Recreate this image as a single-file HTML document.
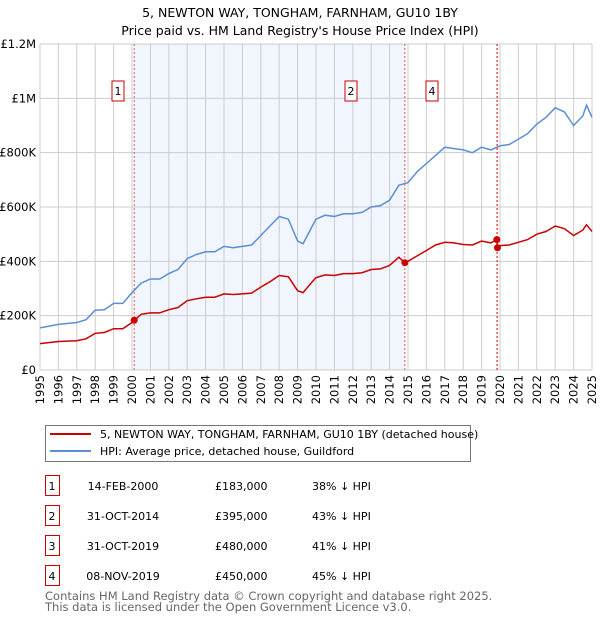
<!DOCTYPE html>
<html><head><meta charset="utf-8"><style>
body{margin:0;background:#fff;font-family:"Liberation Sans","DejaVu Sans",sans-serif;}
svg text{font-family:"DejaVu Sans","Liberation Sans",sans-serif;}
</style></head><body>
<svg id="chart" width="600" height="620" xmlns="http://www.w3.org/2000/svg">
<text x="300" y="17" text-anchor="middle" font-size="12.5">5, NEWTON WAY, TONGHAM, FARNHAM, GU10 1BY</text>
<text x="300" y="35" text-anchor="middle" font-size="12.5">Price paid vs. HM Land Registry's House Price Index (HPI)</text>
<g id="plot"></g>
<g>
<rect x="45.5" y="425.5" width="425" height="36" fill="#fff" stroke="#777"/>
<line x1="50" y1="434" x2="91" y2="434" stroke="#cc0000" stroke-width="2"/>
<text x="100" y="438" font-size="11">5, NEWTON WAY, TONGHAM, FARNHAM, GU10 1BY (detached house)</text>
<line x1="50" y1="451" x2="91" y2="451" stroke="#5b8fd4" stroke-width="2"/>
<text x="100" y="455" font-size="11">HPI: Average price, detached house, Guildford</text>
</g>
<g id="table"></g>
<text x="45" y="600" font-size="11.5" fill="#666">Contains HM Land Registry data © Crown copyright and database right 2025.</text>
<text x="45" y="611" font-size="11.5" fill="#666">This data is licensed under the Open Government Licence v3.0.</text>
</svg>
<script>
const yTicks=[0,200000,400000,600000,800000,1000000,1200000];
const yTickLabels=["£0","£200K","£400K","£600K","£800K","£1M","£1.2M"];
const xYears=[1995,1996,1997,1998,1999,2000,2001,2002,2003,2004,2005,2006,2007,2008,2009,2010,2011,2012,2013,2014,2015,2016,2017,2018,2019,2020,2021,2022,2023,2024,2025];
const hpiT=[1995,1996,1997,1997.5,1998,1998.5,1999,1999.5,2000,2000.5,2001,2001.5,2002,2002.5,2003,2003.5,2004,2004.5,2005,2005.5,2006,2006.5,2007,2007.5,2008,2008.5,2009,2009.3,2009.8,2010,2010.5,2011,2011.5,2012,2012.5,2013,2013.5,2014,2014.5,2015,2015.5,2016,2016.5,2017,2017.5,2018,2018.5,2019,2019.5,2020,2020.5,2021,2021.5,2022,2022.5,2023,2023.5,2024,2024.5,2024.7,2025];
const hpiV=[155,168,175,185,220,222,245,245,285,320,335,335,355,370,410,425,435,435,455,450,455,460,495,530,565,555,475,465,530,555,570,565,575,575,580,600,605,625,680,690,730,760,790,820,815,810,800,820,810,825,830,850,870,905,930,965,950,900,935,975,930];
const redT=[1995,1996,1997,1997.5,1998,1998.5,1999,1999.5,2000,2000.12,2000.5,2001,2001.5,2002,2002.5,2003,2003.5,2004,2004.5,2005,2005.5,2006,2006.5,2007,2007.5,2008,2008.5,2009,2009.3,2009.8,2010,2010.5,2011,2011.5,2012,2012.5,2013,2013.5,2014,2014.5,2014.83,2015,2015.5,2016,2016.5,2017,2017.5,2018,2018.5,2019,2019.5,2019.83,2019.86,2020,2020.5,2021,2021.5,2022,2022.5,2023,2023.5,2024,2024.5,2024.7,2025];
const redV=[97,105,108,115,135,138,152,152,175,183,205,210,210,222,230,255,262,268,268,280,278,280,283,305,325,348,343,292,285,325,340,350,348,355,355,358,370,372,385,415,395,400,420,440,460,470,468,462,460,475,468,480,450,458,460,470,480,500,510,530,520,495,515,535,510];
const saleIds=["1","2","3","4"];
const saleT=[2000.12,2014.83,2019.83,2019.86];
const saleV=[183000,395000,480000,450000];
const saleDates=["14-FEB-2000","31-OCT-2014","31-OCT-2019","08-NOV-2019"];
const salePrices=["£183,000","£395,000","£480,000","£450,000"];
const saleHpi=["38% ↓ HPI","43% ↓ HPI","41% ↓ HPI","45% ↓ HPI"];

const NS="http://www.w3.org/2000/svg";
const X0=40,X1=592,Y0=370,Y1=44;
const xs=t=>X0+(t-1995)/30*(X1-X0);
const ys=v=>Y0-v/1200000*(Y0-Y1);
const plot=document.getElementById('plot');
function mk(tag,at,parent){const e=document.createElementNS(NS,tag);for(const k in at)e.setAttribute(k,at[k]);(parent||plot).appendChild(e);return e;}

let r=mk('rect',{x:xs(saleT[0]),y:Y1,width:xs(saleT[1])-xs(saleT[0]),height:Y0-Y1,fill:'#eef3fc',opacity:0.8});


xYears.forEach(y=>{const l=mk('line',{x1:xs(y),x2:xs(y),y1:Y1,y2:Y0,stroke:'#ccc','stroke-width':1});


const t=mk('text',{x:0,y:0,'font-size':11.5,'text-anchor':'end',transform:`translate(${xs(y)+4},${Y0+5}) rotate(-90)`});t.textContent=y;

});
yTicks.forEach((v,i)=>{const l=mk('line',{x1:X0,x2:X1,y1:ys(v),y2:ys(v),stroke:'#ccc','stroke-width':1});


const t=mk('text',{x:36,y:ys(v)+4,'font-size':11.5,'text-anchor':'end'});t.textContent=yTickLabels[i];

});
saleT.forEach((t,i)=>{const l=mk('line',{x1:xs(t),x2:xs(t),y1:Y1,y2:Y0,stroke:'#e05555','stroke-width':1,'stroke-dasharray':'2,2'});

});
function path(T,V,col,name){const d=T.map((t,i)=>(i?'L':'M')+xs(t).toFixed(1)+','+ys(V[i]*1000).toFixed(1)).join('');
const p=mk('path',{d:d,fill:'none',stroke:col,'stroke-width':1.5});

}
path(hpiT,hpiV,'#5b8fd4','hpi-line');
path(redT,redV,'#cc0000','price-paid-line');
saleT.forEach((t,i)=>{const c=mk('circle',{cx:xs(t),cy:ys(saleV[i]),r:3.5,fill:'#cc0000'});

});
[[0,118],[1,351],[3,432]].forEach(([i,cx])=>{const g=mk('g',{});


mk('rect',{x:cx-6,y:81,width:12,height:20,fill:'#fff',stroke:'#cc0000'},g);
const t=mk('text',{x:cx,y:95,'font-size':11,'text-anchor':'middle'},g);t.textContent=saleIds[i];});
const tb=document.getElementById('table');
saleIds.forEach((id,i)=>{const y=483+i*30;const g=mk('g',{},tb);


mk('rect',{x:45.5,y:y-7.5,width:14,height:20,fill:'#fff',stroke:'#cc0000'},g);
[[52,id,'middle'],[123,saleDates[i],'middle'],[215,salePrices[i],'start'],[312,saleHpi[i],'start']].forEach(([x,s,a])=>{const t=mk('text',{x:x,y:y+7,'font-size':11,'text-anchor':a},g);t.textContent=s;});});
</script>
</body></html>
